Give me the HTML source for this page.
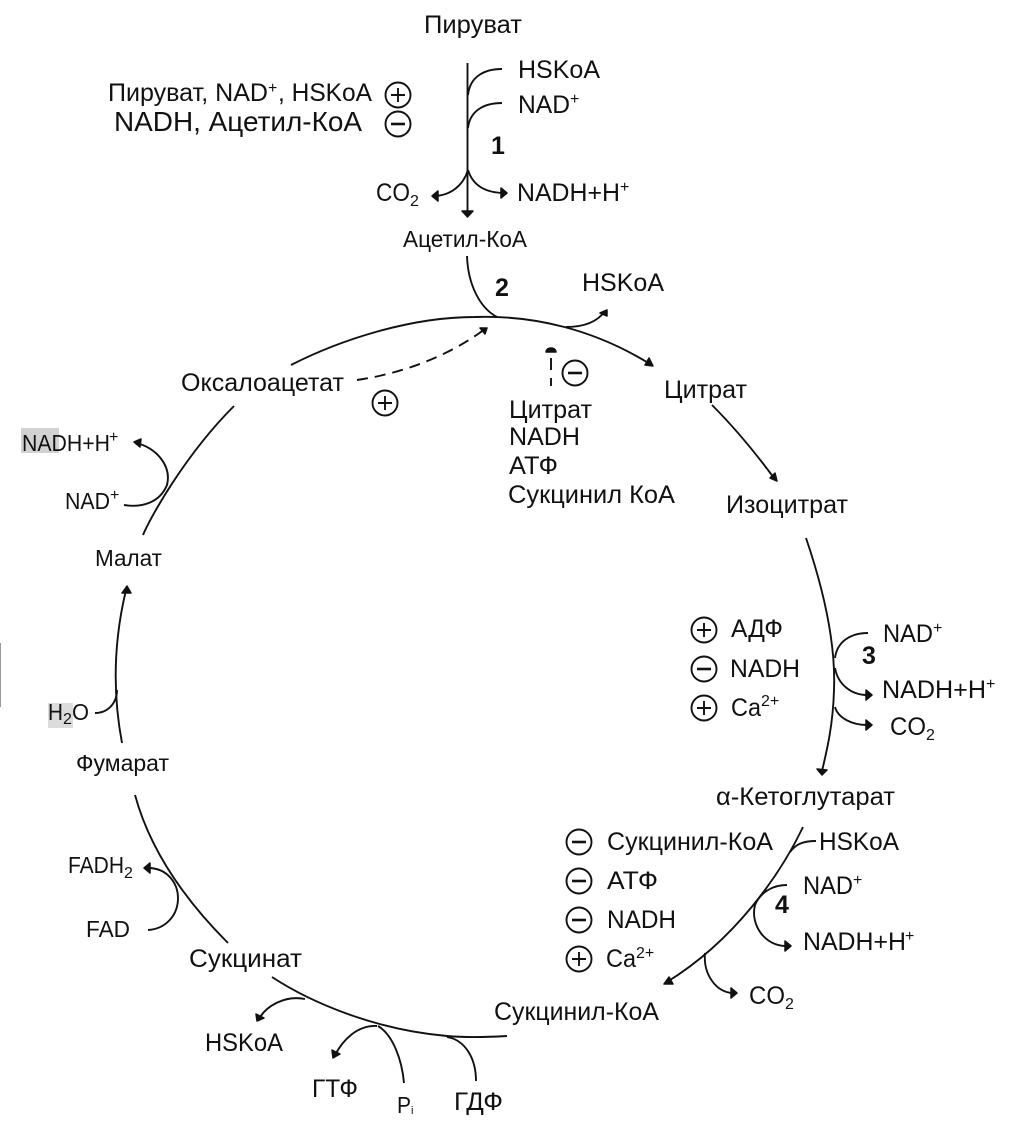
<!DOCTYPE html>
<html><head><meta charset="utf-8"><style>
html,body{margin:0;padding:0;background:#fff;width:1023px;height:1130px;overflow:hidden}
svg{display:block}
text{font-family:"Liberation Sans",sans-serif;font-size:25px;fill:#111}
.n{font-size:23px}
.b{font-weight:bold;font-size:25px}
.s{font-size:16px}
path.l{fill:none;stroke:#111;stroke-width:1.9}
.c{fill:none;stroke:#111;stroke-width:1.9}
.t{fill:#111;stroke:#111;stroke-width:1.5;stroke-linejoin:round}
</style></head><body>
<svg width="1023" height="1130" viewBox="0 0 1023 1130">
<rect width="1023" height="1130" fill="#fff"/>
<rect x="21" y="428" width="38" height="25" fill="#d2d2d2"/>
<rect x="48" y="703" width="25" height="25" fill="#dcdcdc"/>
<rect x="0" y="643" width="1" height="64" fill="#999"/>

<!-- labels -->
<text x="424" y="33" textLength="98" lengthAdjust="spacingAndGlyphs">Пируват</text>
<text x="518" y="78" textLength="82" lengthAdjust="spacingAndGlyphs">HSKoA</text>
<text x="108" y="101" textLength="160" lengthAdjust="spacingAndGlyphs">Пируват, NAD</text>
<text x="268" y="93" class="s">+</text>
<text x="278" y="101" textLength="94" lengthAdjust="spacingAndGlyphs">, HSKoA</text>
<text x="114" y="131" style="font-size:28px" textLength="248" lengthAdjust="spacingAndGlyphs">NADH, Ацетил-КоА</text>
<text x="518" y="113" textLength="52" lengthAdjust="spacingAndGlyphs">NAD</text>
<text x="570" y="104" class="s">+</text>
<text x="491" y="154" class="b">1</text>
<text x="376" y="201" textLength="34" lengthAdjust="spacingAndGlyphs">CO</text>
<text x="410" y="206" class="s">2</text>
<text x="517" y="201" textLength="103" lengthAdjust="spacingAndGlyphs">NADH+H</text>
<text x="620" y="192" class="s">+</text>
<text x="403" y="247" style="font-size:23px" textLength="124" lengthAdjust="spacingAndGlyphs">Ацетил-КоА</text>
<text x="495" y="296" class="b">2</text>
<text x="582" y="291" textLength="82" lengthAdjust="spacingAndGlyphs">HSKoA</text>
<text x="181" y="391" textLength="163" lengthAdjust="spacingAndGlyphs">Оксалоацетат</text>
<text x="664" y="398" textLength="83" lengthAdjust="spacingAndGlyphs">Цитрат</text>
<text x="509" y="418" textLength="83" lengthAdjust="spacingAndGlyphs">Цитрат</text>
<text x="509" y="445" textLength="71" lengthAdjust="spacingAndGlyphs">NADH</text>
<text x="509" y="474" textLength="49" lengthAdjust="spacingAndGlyphs">АТФ</text>
<text x="508" y="503" textLength="167" lengthAdjust="spacingAndGlyphs">Сукцинил КоА</text>
<text x="726" y="513" textLength="122" lengthAdjust="spacingAndGlyphs">Изоцитрат</text>
<text x="22" y="451" class="n" textLength="88" lengthAdjust="spacingAndGlyphs">NADH+H</text>
<text x="109" y="442" class="s">+</text>
<text x="65" y="509" class="n" textLength="45" lengthAdjust="spacingAndGlyphs">NAD</text>
<text x="110" y="500" class="s">+</text>
<text x="95" y="566" class="n" textLength="67" lengthAdjust="spacingAndGlyphs">Малат</text>
<text x="48" y="720" class="n" textLength="15" lengthAdjust="spacingAndGlyphs">H</text>
<text x="63" y="724" class="s">2</text>
<text x="72" y="720" class="n" textLength="17" lengthAdjust="spacingAndGlyphs">O</text>
<text x="76" y="771" class="n" textLength="93" lengthAdjust="spacingAndGlyphs">Фумарат</text>
<text x="731" y="637" textLength="52" lengthAdjust="spacingAndGlyphs">АДФ</text>
<text x="730" y="677" textLength="70" lengthAdjust="spacingAndGlyphs">NADH</text>
<text x="731" y="716" textLength="30" lengthAdjust="spacingAndGlyphs">Ca</text>
<text x="761" y="706" class="s">2+</text>
<text x="883" y="642" textLength="50" lengthAdjust="spacingAndGlyphs">NAD</text>
<text x="933" y="633" class="s">+</text>
<text x="862" y="664" class="b">3</text>
<text x="882" y="698" textLength="104" lengthAdjust="spacingAndGlyphs">NADH+H</text>
<text x="986" y="689" class="s">+</text>
<text x="890" y="735" textLength="36" lengthAdjust="spacingAndGlyphs">CO</text>
<text x="926" y="740" class="s">2</text>
<text x="716" y="805" textLength="179" lengthAdjust="spacingAndGlyphs">α-Кетоглутарат</text>
<text x="819" y="850" textLength="80" lengthAdjust="spacingAndGlyphs">HSKoA</text>
<text x="607" y="850" textLength="166" lengthAdjust="spacingAndGlyphs">Сукцинил-КоА</text>
<text x="607" y="889" textLength="51" lengthAdjust="spacingAndGlyphs">АТФ</text>
<text x="607" y="928" textLength="69" lengthAdjust="spacingAndGlyphs">NADH</text>
<text x="606" y="967" textLength="30" lengthAdjust="spacingAndGlyphs">Ca</text>
<text x="636" y="958" class="s">2+</text>
<text x="803" y="894" textLength="50" lengthAdjust="spacingAndGlyphs">NAD</text>
<text x="853" y="885" class="s">+</text>
<text x="775" y="913" class="b">4</text>
<text x="803" y="950" textLength="103" lengthAdjust="spacingAndGlyphs">NADH+H</text>
<text x="905" y="941" class="s">+</text>
<text x="749" y="1004" textLength="36" lengthAdjust="spacingAndGlyphs">CO</text>
<text x="785" y="1009" class="s">2</text>
<text x="68" y="873" class="n" textLength="56" lengthAdjust="spacingAndGlyphs">FADH</text>
<text x="124" y="878" class="s">2</text>
<text x="86" y="937" class="n" textLength="44" lengthAdjust="spacingAndGlyphs">FAD</text>
<text x="189" y="967" textLength="113" lengthAdjust="spacingAndGlyphs">Сукцинат</text>
<text x="494" y="1020" textLength="165" lengthAdjust="spacingAndGlyphs">Сукцинил-КоА</text>
<text x="205" y="1051" textLength="78" lengthAdjust="spacingAndGlyphs">HSKoA</text>
<text x="312" y="1097" textLength="46" lengthAdjust="spacingAndGlyphs">ГТФ</text>
<text x="397" y="1113" class="n" textLength="14" lengthAdjust="spacingAndGlyphs">P</text>
<text x="411" y="1114" style="font-size:11px">i</text>
<text x="454" y="1110" textLength="49" lengthAdjust="spacingAndGlyphs">ГДФ</text>

<!-- connectors -->
<path class="l" d="M467.5,63 L467.5,212"/>
<path class="l" d="M502,69 C485,69 470,76 468,95"/>
<path class="l" d="M502,103 C485,103 470,110 468,128"/>
<path class="l" d="M468,170 C463,186 450,196 433,196"/>
<path class="l" d="M468,170 C473,186 486,193 505,193"/>
<path class="l" d="M467,256 C468,285 480,308 497,317"/>
<path class="l" d="M291,365 C340,340 410,317 475,317 C535,315 595,330 650,364"/>
<path class="l" d="M566,327 C585,327 598,321 605,311"/>
<path class="l" d="M357,380 C405,373 450,355 485,329" stroke-dasharray="11 7"/>
<path class="l" d="M551,358V370M551,378V386"/>
<path class="l" d="M712,405 C735,428 757,455 774,478"/>
<path class="l" d="M806,538 C822,585 836,640 834,690 C833,725 827,750 822,771"/>
<path class="l" d="M868,633 C850,633 837,642 835,658"/>
<path class="l" d="M835,668 C838,685 852,695 867,695"/>
<path class="l" d="M835,707 C838,718 852,725 867,725"/>
<path class="l" d="M803,827 C780,875 735,940 667,982"/>
<path class="l" d="M816,841 C803,841 796,844 790,852"/>
<path class="l" d="M787,885 C772,885 760,893 755,905 C750,925 765,946 786,946"/>
<path class="l" d="M705,953 C703,975 717,993 733,993"/>
<path class="l" d="M272,977 C310,1002 375,1030 447,1036 C470,1038 490,1037 507,1036"/>
<path class="l" d="M305,999 C285,995 266,1006 259,1019"/>
<path class="l" d="M377,1026 C357,1025 343,1040 335,1055"/>
<path class="l" d="M378,1026 C393,1035 402,1060 404,1083"/>
<path class="l" d="M447,1037 C465,1040 476,1058 476,1081"/>
<path class="l" d="M228,943 C185,900 150,850 135,795"/>
<path class="l" d="M122,743 C112,690 114,640 126,590"/>
<path class="l" d="M95,713 C108,713 117,703 117,690"/>
<path class="l" d="M143,535 C150,518 185,455 234,406"/>
<path class="l" d="M124,505 C143,508 160,502 167,485 C172,465 155,447 136,443"/>
<path class="l" d="M148,868 C168,868 178,884 178,898 C178,916 165,929 148,930"/>

<!-- arrowheads -->
<path class="t" d="M467.5,217 L462,211 L473,211Z"/>
<path class="t" d="M432,196 L438,191 L438,201Z"/>
<path class="t" d="M507,193 L501,188 L501,198Z"/>
<path class="t" d="M653,366 L645,365 L649,358Z"/>
<path class="t" d="M607,310 L607,316 L600,313Z"/>
<path class="t" d="M487,328 L480,328 L485,334Z"/>
<path class="t" d="M551,348 C547,348 546,351 546,352 L556,352 C556,351 555,348 551,348Z"/>
<path class="t" d="M777,481 L770,478 L775,473Z"/>
<path class="t" d="M822,775 L817,769 L827,770Z"/>
<path class="t" d="M872,695 L866,690 L866,700Z"/>
<path class="t" d="M872,725 L866,720 L866,730Z"/>
<path class="t" d="M664,984 L669,977 L673,984Z"/>
<path class="t" d="M791,946 L785,941 L785,951Z"/>
<path class="t" d="M737,993 L731,988 L731,998Z"/>
<path class="t" d="M257,1021 L256,1014 L264,1018Z"/>
<path class="t" d="M333,1058 L332,1050 L340,1054Z"/>
<path class="t" d="M127,586 L122,593 L131,593Z"/>
<path class="t" d="M134,442 L141,439 L140,447Z"/>
<path class="t" d="M144,868 L150,863 L150,873Z"/>

<!-- plus / minus circles -->
<g class="c">
<circle cx="398" cy="95" r="12.5"/><path class="l" d="M391,95H405M398,88V102"/>
<circle cx="398" cy="124" r="12.5"/><path class="l" style="stroke-width:2.6" d="M391,124H405"/>
<circle cx="575" cy="373" r="12.5"/><path class="l" style="stroke-width:2.6" d="M568,373H582"/>
<circle cx="385" cy="403" r="12.5"/><path class="l" d="M378,403H392M385,396V410"/>
<circle cx="704" cy="630" r="12.5"/><path class="l" d="M697,630H711M704,623V637"/>
<circle cx="704" cy="669" r="12.5"/><path class="l" style="stroke-width:2.6" d="M697,669H711"/>
<circle cx="704" cy="708" r="12.5"/><path class="l" d="M697,708H711M704,701V715"/>
<circle cx="579" cy="842" r="12.5"/><path class="l" style="stroke-width:2.6" d="M572,842H586"/>
<circle cx="579" cy="881" r="12.5"/><path class="l" style="stroke-width:2.6" d="M572,881H586"/>
<circle cx="579" cy="920" r="12.5"/><path class="l" style="stroke-width:2.6" d="M572,920H586"/>
<circle cx="579" cy="959" r="12.5"/><path class="l" d="M572,959H586M579,952V966"/>
</g>
</svg>
</body></html>
